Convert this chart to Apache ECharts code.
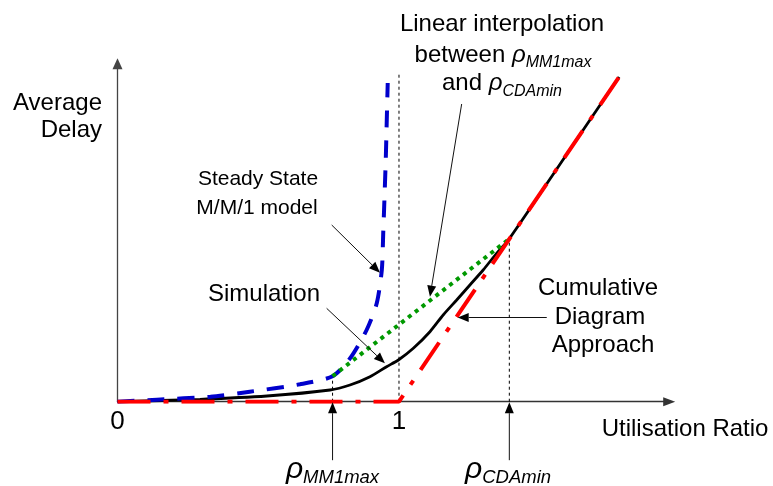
<!DOCTYPE html>
<html>
<head>
<meta charset="utf-8">
<script src="https://cdn.jsdelivr.net/npm/echarts@6/dist/echarts.min.js"></script>
<style>
  html, body { margin: 0; padding: 0; background: #fff; }
  #chart { width: 773px; height: 486px; }
</style>
</head>
<body>
<div id="chart"></div>
<script>
// Average delay (arbitrary units) against utilisation ratio for the three delay models.
const simulation = [[0, 0], [0.293, 0.024], [0.531, 0.057], [0.755, 0.117], [0.826, 0.167], [0.897, 0.25],
  [0.956, 0.35], [0.998, 0.417], [1.051, 0.534], [1.110, 0.70], [1.157, 0.867], [1.205, 1.017],
  [1.252, 1.167], [1.299, 1.317], [1.347, 1.484], [1.392, 1.63], [1.59, 2.45], [1.782, 3.247]];
const mm1Model = [[0, 0], [0.14, 0.02], [0.33, 0.05], [0.47, 0.10], [0.648, 0.174], [0.764, 0.255],
  [0.826, 0.433], [0.885, 0.717], [0.921, 0.984], [0.939, 1.317], [0.944, 1.684], [0.947, 1.917],
  [0.953, 2.417], [0.956, 2.747], [0.960, 3.187]];
const rhoMM1max = 0.764;
const rhoCDAmin = 1.392;
const interpolation = [[rhoMM1max, 0.255], [rhoCDAmin, 1.628]];
const cumulativeDiagram = [[0, 0], [1, 0], [1.782, 3.247]];
const xTickLabels = [0, 1];

// Dashed guides [x1, y1, x2, y2]
const guideLines = [
  [1, 0, 1, 3.30],
  [rhoMM1max, 0, rhoMM1max, 0.255],
  [rhoCDAmin, 0, rhoCDAmin, 1.628]
];
// Callout arrows [fromX, fromY, toX, toY], head at the "to" end
const calloutArrows = [
  [0.761, 1.767, 0.9325, 1.29],
  [0.743, 0.934, 0.950, 0.384],
  [1.2227, 2.977, 1.110, 1.05],
  [1.525, 0.842, 1.2086, 0.842],
  [rhoMM1max, -0.585, rhoMM1max, -0.005],
  [rhoCDAmin, -0.585, rhoCDAmin, -0.005]
];

const FONT = '"Liberation Sans", Arial, Helvetica, sans-serif';

function text(x, y, str, extra) {
  return {
    type: 'text', x: x, y: y, silent: true,
    style: Object.assign({
      text: str, fill: '#000', fontSize: 24, fontFamily: FONT,
      textAlign: 'center', textVerticalAlign: 'middle'
    }, extra || {})
  };
}

function rhoRich(mainSize, rhoSize, subSize, shift) {
  return {
    n: { fontSize: mainSize, fontFamily: FONT, fill: '#000' },
    r: { fontSize: rhoSize, fontFamily: FONT, fontStyle: 'italic', fill: '#000' },
    s: { fontSize: subSize, fontFamily: FONT, fontStyle: 'italic', fill: '#000', padding: [shift * 2, 0, 0, 0] }
  };
}

const chart = echarts.init(document.getElementById('chart'), null, { renderer: 'canvas' });

chart.setOption({
  animation: false,
  backgroundColor: '#fff',
  grid: { left: 117.5, right: 103.8, top: 63.7, bottom: 84.3, containLabel: false, outerBoundsMode: 'none' },
  xAxis: {
    type: 'value', min: 0, max: 1.96, interval: 1,
    axisLine: { show: true, onZero: false, symbol: ['none', 'triangle'], symbolSize: [9, 12],
      lineStyle: { color: '#333', width: 1.3 } },
    axisTick: { show: false },
    splitLine: { show: false },
    axisLabel: {
      show: true, margin: 7, fontSize: 26, color: '#000', fontFamily: FONT,
      formatter: v => (xTickLabels.indexOf(v) >= 0 ? String(v) : '')
    }
  },
  yAxis: {
    type: 'value', min: 0, max: 3.38,
    axisLine: { show: true, onZero: false, symbol: ['none', 'triangle'], symbolSize: [10, 11],
      lineStyle: { color: '#444', width: 1.3 } },
    axisTick: { show: false },
    splitLine: { show: false },
    axisLabel: { show: false }
  },
  series: [
    {
      type: 'custom', silent: true, clip: false, data: guideLines,
      renderItem: (params, api) => {
        const a = api.coord([api.value(0), api.value(1)]);
        const b = api.coord([api.value(2), api.value(3)]);
        return { type: 'line', shape: { x1: a[0], y1: a[1], x2: b[0], y2: b[1] },
          style: { stroke: '#000', lineWidth: 1, lineDash: [3, 3] } };
      }
    },
    {
      name: 'Simulation', type: 'line', data: simulation, showSymbol: false, symbol: 'none',
      smooth: 0.25, silent: true,
      lineStyle: { color: '#000', width: 2.8 }
    },
    {
      name: 'Steady State M/M/1 model', type: 'line', data: mm1Model, showSymbol: false, symbol: 'none',
      smooth: 0.25, silent: true,
      lineStyle: { color: '#0000cc', width: 4, type: [17, 13] }
    },
    {
      name: 'Linear interpolation', type: 'line', data: interpolation, showSymbol: false, symbol: 'none',
      silent: true,
      lineStyle: { color: '#009900', width: 4, type: [4, 4.7] }
    },
    {
      name: 'Cumulative Diagram Approach', type: 'line', data: cumulativeDiagram, showSymbol: false,
      symbol: 'none', silent: true,
      lineStyle: { color: '#ff0000', width: 4, type: [33, 13, 5, 13] }
    },
    {
      type: 'custom', silent: true, clip: false, data: calloutArrows, z: 5,
      renderItem: (params, api) => {
        const a = api.coord([api.value(0), api.value(1)]);
        const b = api.coord([api.value(2), api.value(3)]);
        const dx = b[0] - a[0], dy = b[1] - a[1];
        const len = Math.hypot(dx, dy);
        const ux = dx / len, uy = dy / len;
        const headLen = 11, halfW = 4.5;
        const bx = b[0] - ux * headLen, by = b[1] - uy * headLen;
        return {
          type: 'group',
          children: [
            { type: 'line', shape: { x1: a[0], y1: a[1], x2: bx, y2: by },
              style: { stroke: '#111', lineWidth: 1 } },
            { type: 'polygon',
              shape: { points: [[b[0], b[1]], [bx - uy * halfW, by + ux * halfW], [bx + uy * halfW, by - ux * halfW]] },
              style: { fill: '#000' } }
          ]
        };
      }
    }
  ],
  graphic: [
    text(102, 103.2, 'Average', { textAlign: 'right' }),
    text(102, 130.8, 'Delay', { textAlign: 'right' }),
    text(258, 179, 'Steady State', { fontSize: 21 }),
    text(257, 208.5, 'M/M/1 model', { fontSize: 21 }),
    text(264, 294.7, 'Simulation'),
    text(502, 24.7, 'Linear interpolation'),
    text(503, 55, '{n|between }{r|ρ}{s|MM1max}', { rich: rhoRich(24, 24, 16, 7.8) }),
    text(502, 83.4, '{n|and }{r|ρ}{s|CDAmin}', { rich: rhoRich(24, 24, 16, 7.8) }),
    text(598, 288.4, 'Cumulative'),
    text(600, 317.7, 'Diagram'),
    text(603, 345, 'Approach'),
    text(601.7, 429.7, 'Utilisation Ratio', { textAlign: 'left' }),
    text(332.5, 469.6, '{r|ρ}{s|MM1max}', { rich: rhoRich(24, 30, 18.5, 8.3) }),
    text(508, 469.6, '{r|ρ}{s|CDAmin}', { rich: rhoRich(24, 30, 18.5, 8.3) })
  ]
});
</script>
</body>
</html>
